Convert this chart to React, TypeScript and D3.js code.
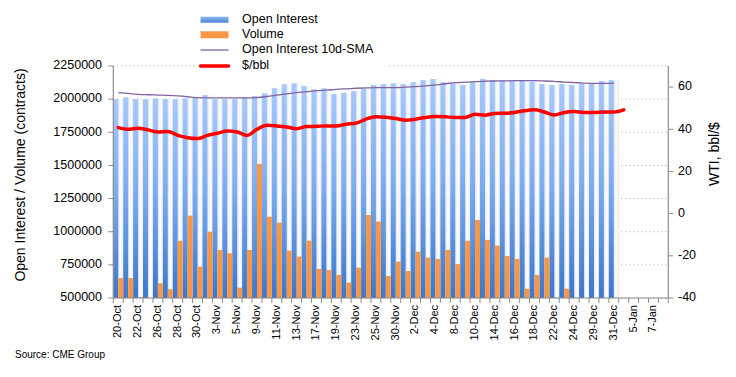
import React from 'react';
import * as d3 from 'd3';

const dates = [
  '20-Oct','21-Oct','22-Oct','23-Oct','26-Oct','27-Oct','28-Oct','29-Oct','30-Oct',
  '2-Nov','3-Nov','4-Nov','5-Nov','6-Nov','9-Nov','10-Nov','11-Nov','12-Nov','13-Nov',
  '16-Nov','17-Nov','18-Nov','19-Nov','20-Nov','23-Nov','24-Nov','25-Nov','27-Nov','30-Nov',
  '1-Dec','2-Dec','3-Dec','4-Dec','7-Dec','8-Dec','9-Dec','10-Dec','11-Dec','14-Dec',
  '15-Dec','16-Dec','17-Dec','18-Dec','21-Dec','22-Dec','23-Dec','24-Dec','28-Dec','29-Dec',
  '30-Dec','31-Dec','4-Jan','5-Jan','6-Jan','7-Jan','8-Jan'
];

const openInterest = [
  2000000, 2014000, 2000000, 2000000, 2006000, 2000000, 2000000, 2006000, 2014000, 2031000,
  2000000, 2000000, 2000000, 2014000, 2024000, 2044000, 2082000, 2112000, 2119000, 2099000,
  2074000, 2082000, 2039000, 2049000, 2061000, 2082000, 2107000, 2114000, 2119000, 2114000,
  2129000, 2144000, 2152000, 2129000, 2119000, 2107000, 2129000, 2152000, 2144000, 2144000,
  2139000, 2139000, 2132000, 2114000, 2107000, 2114000, 2107000, 2114000, 2119000, 2137000,
  2144000
];

const volume = [
  650000, 650000, 505000, 480000, 611000, 566000, 932000, 1121000, 736000, 1000000,
  862000, 837000, 578000, 862000, 1511000, 1113000, 1068000, 857000, 812000, 932000,
  719000, 711000, 674000, 616000, 729000, 1126000, 1076000, 666000, 774000, 704000,
  849000, 804000, 794000, 862000, 756000, 932000, 1088000, 938000, 895000, 817000,
  794000, 570000, 674000, 804000, 503000, 570000, 480000, 480000, 480000, 480000,
  490000
];

const oiSma = [
  2049000, 2043000, 2036000, 2033000, 2031000, 2028000, 2024000, 2018000, 2011000, 2010000,
  2010000, 2010000, 2010000, 2010000, 2012000, 2020000, 2030000, 2040000, 2049000, 2056000,
  2064000, 2068000, 2074000, 2078000, 2082000, 2085000, 2087000, 2087000, 2087000, 2090000,
  2094000, 2100000, 2107000, 2116000, 2124000, 2128000, 2132000, 2135000, 2137000, 2138000,
  2139000, 2139000, 2139000, 2137000, 2134000, 2129000, 2125000, 2121000, 2119000, 2119000,
  2119000
];

const wti = [
  40.8, 40.0, 40.5, 39.7, 38.7, 39.0, 37.1, 36.0, 35.6, 37.1,
  38.1, 39.2, 38.7, 37.1, 40.0, 41.9, 41.6, 41.1, 40.3, 41.3,
  41.4, 41.6, 41.6, 42.4, 42.9, 44.8, 45.9, 45.7, 45.1, 44.3,
  44.8, 45.6, 46.0, 45.9, 45.6, 45.6, 47.1, 46.7, 47.5, 47.6,
  48.0, 48.8, 49.2, 48.2, 46.8, 48.0, 48.4, 48.0, 48.0, 48.2,
  48.2, 49.2
];

const leftTicks = [500000, 750000, 1000000, 1250000, 1500000, 1750000, 2000000, 2250000];
const rightTicks = [-40, -20, 0, 20, 40, 60];

const legendItems = ['Open Interest', 'Volume', 'Open Interest 10d-SMA', '$/bbl'];

const FONT = 'Liberation Sans, Arial, Helvetica, sans-serif';

export default function App() {
  const W = 736, H = 377;
  const left = 113.3, right = 668.3, top = 66, bottom = 298;

  const x = d3.scaleBand<string>().domain(dates).range([left, right]).paddingInner(0).paddingOuter(0);
  const bw = x.bandwidth();
  const yL = d3.scaleLinear().domain([500000, 2250000]).range([bottom, top]);
  const yR = d3.scaleLinear().domain([-40, 70]).range([bottom, top]);
  const cx = (i: number) => (x(dates[i]) as number) + bw / 2;

  const smaLine = d3.line<number>().x((_, i) => cx(i)).y(d => yL(d)).curve(d3.curveMonotoneX)(oiSma) || '';
  const wtiLine = d3.line<number>().x((_, i) => cx(i)).y(d => yR(d)).curve(d3.curveMonotoneX)(wti) || '';

  const axisColor = '#8c8c8c';
  const gridColor = '#a6a6a6';

  const legX = 200.5;
  const legRows = [19.7, 34.7, 50, 66];

  return (
    <svg width={W} height={H} style={{ position: 'absolute', left: 0, top: 0, background: '#fff' }} fontFamily={FONT}>
      <defs>
        <linearGradient id="blueGrad" x1="0" y1="0" x2="0" y2="1">
          <stop offset="0" stopColor="#a6c9fb" />
          <stop offset="0.45" stopColor="#7eaef0" />
          <stop offset="1" stopColor="#3b77cc" />
        </linearGradient>
        <linearGradient id="shadowGrad" x1="0" y1="0" x2="1" y2="0">
          <stop offset="0" stopColor="#dedede" />
          <stop offset="0.3" stopColor="#f7f7f7" />
          <stop offset="0.7" stopColor="#fbfbfb" />
          <stop offset="1" stopColor="#e4e4e4" />
        </linearGradient>
        <linearGradient id="legBlue" x1="0" y1="0" x2="0" y2="1">
          <stop offset="0" stopColor="#8db8f2" />
          <stop offset="1" stopColor="#4a85d6" />
        </linearGradient>
      </defs>

      {/* gridlines */}
      {leftTicks.map(t => (
        <line key={'g' + t} x1={left} x2={right} y1={yL(t)} y2={yL(t)} stroke={gridColor} strokeWidth={1} strokeDasharray="1,3" />
      ))}

      {/* shadow strips */}
      {openInterest.map((v, i) => (
        <rect key={'s' + i} x={(x(dates[i]) as number) + bw / 2} y={yL(v)} width={bw / 2} height={bottom - yL(v)} fill="url(#shadowGrad)" />
      ))}

      {/* OI bars */}
      {openInterest.map((v, i) => (
        <rect key={'oi' + i} x={x(dates[i]) as number} y={yL(v)} width={bw / 2} height={bottom - yL(v)} fill="url(#blueGrad)" />
      ))}

      {/* volume bars */}
      {volume.map((v, i) => {
        const h = Math.max(0, bottom - yL(v));
        return h > 0 ? (
          <rect key={'v' + i} x={(x(dates[i]) as number) + bw / 2} y={yL(v)} width={bw / 2} height={h} fill="#f79646" />
        ) : null;
      })}

      {/* lines */}
      <path d={smaLine} fill="none" stroke="#8064a2" strokeWidth={1.3} />
      <path d={wtiLine} fill="none" stroke="#ff0000" strokeWidth={3.5} strokeLinejoin="round" strokeLinecap="round" />

      {/* left axis */}
      <line x1={left} x2={left} y1={top} y2={bottom} stroke={axisColor} strokeWidth={1.2} />
      {leftTicks.map(t => (
        <g key={'lt' + t}>
          <line x1={left - 5} x2={left} y1={yL(t)} y2={yL(t)} stroke={axisColor} />
          <text x={102} y={yL(t)} textAnchor="end" dominantBaseline="middle" fontSize={12.5} fill="#000">{t}</text>
        </g>
      ))}

      {/* right axis */}
      <line x1={right} x2={right} y1={top} y2={bottom} stroke={axisColor} strokeWidth={1.2} />
      {rightTicks.map(t => (
        <g key={'rt' + t}>
          <line x1={right} x2={right + 5} y1={yR(t)} y2={yR(t)} stroke={axisColor} />
          <text x={678} y={yR(t)} textAnchor="start" dominantBaseline="middle" fontSize={12.5} fill="#000">{t}</text>
        </g>
      ))}

      {/* x axis */}
      <line x1={left} x2={right} y1={bottom} y2={bottom} stroke={axisColor} strokeWidth={1.2} />
      {dates.map((d, i) => (
        <line key={'xt' + i} x1={x(d) as number} x2={x(d) as number} y1={bottom} y2={bottom + 5} stroke={axisColor} />
      ))}
      <line x1={right} x2={right} y1={bottom} y2={bottom + 5} stroke={axisColor} />
      {dates.map((d, i) => i % 2 === 0 ? (
        <text key={'xl' + i} transform={`translate(${cx(i)},${305}) rotate(-90)`} textAnchor="end" dominantBaseline="middle" fontSize={11} fill="#000">{d}</text>
      ) : null)}

      {/* axis titles */}
      <text transform={`translate(21,175) rotate(-90)`} textAnchor="middle" dominantBaseline="middle" fontSize={14} fill="#000">Open Interest / Volume (contracts)</text>
      <text transform={`translate(715,154) rotate(-90)`} textAnchor="middle" dominantBaseline="middle" fontSize={14} fill="#000">WTI, bbl/$</text>

      {/* source */}
      <text x={15} y={358} fontSize={10} fill="#000">Source: CME Group</text>

      {/* legend */}
      <rect x={196} y={4} width={191} height={70} fill="#fff" />
      <rect x={legX} y={16.7} width={28} height={6} fill="url(#legBlue)" />
      <rect x={legX} y={31.3} width={28} height={7} fill="#f79646" />
      <line x1={legX} x2={legX + 28} y1={50} y2={50} stroke="#8064a2" strokeWidth={1.3} />
      <line x1={legX} x2={legX + 28} y1={66} y2={66} stroke="#ff0000" strokeWidth={3.5} strokeLinecap="round" />
      {legendItems.map((t, i) => (
        <text key={'lg' + i} x={242} y={legRows[i]} dominantBaseline="middle" fontSize={12.5} fill="#000">{t}</text>
      ))}
    </svg>
  );
}
